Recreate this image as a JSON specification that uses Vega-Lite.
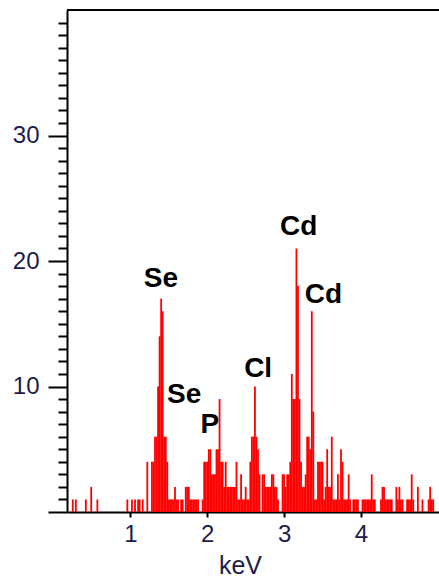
{
  "$schema": "https://vega.github.io/schema/vega-lite/v6.json",
  "width": 372,
  "height": 502,
  "autosize": {"type": "none"},
  "padding": {"left": 67, "top": 10, "right": 0, "bottom": 65},
  "background": "white",
  "config": {"view": {"stroke": null}, "font": "Liberation Sans"},
  "datasets": {
    "spectrum": [
      {"e":0.25,"c":1},{"e":0.29,"c":1},{"e":0.42,"c":1},{"e":0.49,"c":2},{"e":0.57,"c":1},
      {"e":0.96,"c":1},{"e":1.02,"c":1},{"e":1.06,"c":1},{"e":1.10,"c":1},{"e":1.12,"c":1},{"e":1.16,"c":1},
      {"e":1.22,"c":4},{"e":1.28,"c":4},{"e":1.30,"c":4},{"e":1.32,"c":6},{"e":1.34,"c":6},{"e":1.36,"c":10},{"e":1.38,"c":14},{"e":1.40,"c":17},{"e":1.42,"c":16},{"e":1.44,"c":6},{"e":1.46,"c":6},{"e":1.48,"c":4},
      {"e":1.50,"c":1},{"e":1.52,"c":1},{"e":1.54,"c":1},{"e":1.56,"c":1},{"e":1.58,"c":2},{"e":1.60,"c":1},{"e":1.62,"c":1},{"e":1.66,"c":1},{"e":1.68,"c":1},{"e":1.72,"c":2},{"e":1.74,"c":2},{"e":1.76,"c":2},{"e":1.78,"c":1},{"e":1.80,"c":1},{"e":1.82,"c":1},{"e":1.84,"c":1},{"e":1.86,"c":1},{"e":1.88,"c":1},{"e":1.94,"c":1},
      {"e":1.96,"c":4},{"e":1.98,"c":4},{"e":2.00,"c":4},{"e":2.02,"c":5},{"e":2.04,"c":5},{"e":2.06,"c":3},{"e":2.08,"c":3},{"e":2.10,"c":3},{"e":2.12,"c":5},{"e":2.14,"c":5},{"e":2.16,"c":9},{"e":2.18,"c":4},{"e":2.20,"c":4},{"e":2.22,"c":2},{"e":2.24,"c":4},{"e":2.26,"c":2},{"e":2.28,"c":2},{"e":2.30,"c":2},{"e":2.32,"c":2},{"e":2.34,"c":2},{"e":2.36,"c":2},{"e":2.38,"c":4},{"e":2.40,"c":1},{"e":2.42,"c":1},{"e":2.44,"c":3},{"e":2.46,"c":1},{"e":2.48,"c":1},{"e":2.50,"c":2},{"e":2.52,"c":1},{"e":2.54,"c":1},
      {"e":2.56,"c":4},{"e":2.58,"c":6},{"e":2.60,"c":6},{"e":2.62,"c":10},{"e":2.64,"c":6},{"e":2.66,"c":5},{"e":2.68,"c":3},{"e":2.72,"c":3},{"e":2.74,"c":3},{"e":2.76,"c":2},{"e":2.78,"c":2},{"e":2.80,"c":2},{"e":2.82,"c":2},{"e":2.84,"c":3},{"e":2.86,"c":3},{"e":2.88,"c":2},{"e":2.90,"c":2},{"e":2.92,"c":1},
      {"e":2.98,"c":3},{"e":3.00,"c":3},{"e":3.02,"c":2},{"e":3.04,"c":3},{"e":3.06,"c":3},{"e":3.08,"c":4},{"e":3.10,"c":11},{"e":3.12,"c":9},{"e":3.14,"c":9},{"e":3.16,"c":21},{"e":3.18,"c":18},{"e":3.20,"c":9},{"e":3.22,"c":4},{"e":3.24,"c":2},{"e":3.26,"c":2},{"e":3.28,"c":3},{"e":3.30,"c":6},{"e":3.32,"c":6},{"e":3.34,"c":5},{"e":3.36,"c":16},{"e":3.38,"c":8},{"e":3.40,"c":1},{"e":3.42,"c":1},{"e":3.44,"c":4},{"e":3.46,"c":4},{"e":3.48,"c":4},{"e":3.50,"c":4},{"e":3.52,"c":1},{"e":3.54,"c":2},{"e":3.56,"c":5},{"e":3.58,"c":2},{"e":3.60,"c":2},{"e":3.62,"c":6},{"e":3.64,"c":1},{"e":3.66,"c":1},{"e":3.68,"c":1},{"e":3.70,"c":3},{"e":3.72,"c":1},{"e":3.74,"c":5},{"e":3.76,"c":4},{"e":3.78,"c":1},{"e":3.80,"c":1},{"e":3.82,"c":1},{"e":3.84,"c":3},{"e":3.86,"c":1},{"e":3.90,"c":1},{"e":3.92,"c":1},{"e":3.94,"c":1},{"e":3.96,"c":1},
      {"e":4.02,"c":1},{"e":4.04,"c":1},{"e":4.06,"c":1},{"e":4.08,"c":1},{"e":4.10,"c":1},{"e":4.12,"c":1},{"e":4.14,"c":3},{"e":4.16,"c":1},{"e":4.18,"c":1},{"e":4.26,"c":1},{"e":4.28,"c":2},{"e":4.30,"c":2},{"e":4.32,"c":1},{"e":4.34,"c":1},{"e":4.36,"c":1},{"e":4.38,"c":1},{"e":4.40,"c":1},{"e":4.46,"c":2},{"e":4.48,"c":1},{"e":4.50,"c":2},{"e":4.52,"c":1},{"e":4.54,"c":1},{"e":4.60,"c":1},{"e":4.62,"c":1},{"e":4.64,"c":1},{"e":4.66,"c":3},{"e":4.68,"c":1},{"e":4.74,"c":2},{"e":4.80,"c":1},{"e":4.88,"c":1},{"e":4.90,"c":2},{"e":4.92,"c":1},{"e":4.94,"c":1}
    ],
    "labels": [
      {"e":1.396,"c":17.95,"t":"Se"},
      {"e":1.699,"c":8.66,"t":"Se"},
      {"e":2.034,"c":6.27,"t":"P"},
      {"e":2.662,"c":10.78,"t":"Cl"},
      {"e":3.19,"c":22.07,"t":"Cd"},
      {"e":3.51,"c":16.68,"t":"Cd"}
    ]
  },
  "layer": [
    {
      "data": {"name": "spectrum"},
      "mark": {"type": "bar", "color": "#ff0000", "width": 1.8, "orient": "vertical"},
      "encoding": {
        "x": {
          "field": "e", "type": "quantitative",
          "scale": {"domain": [0.24, 4.95], "nice": false, "zero": false},
          "axis": {
            "values": [1, 2, 3, 4], "format": "d", "grid": false, "tickCount": 100,
            "tickSize": 5, "tickWidth": 2, "tickColor": "black",
            "domainColor": "black", "domainWidth": 2,
            "labelFontSize": 24, "labelColor": "#1c1c4c", "labelPadding": 5, "labelFlush": false, "labelOverlap": false,
            "title": "keV", "titleFontSize": 25, "titleFontWeight": "normal", "titleColor": "#1c1c4c",
            "titleX": 173, "titleY": 61, "titleBaseline": "alphabetic", "titleAlign": "center", "titleAnchor": null
          }
        },
        "y": {
          "field": "c", "type": "quantitative",
          "scale": {"domain": [0, 40], "nice": false},
          "axis": {
            "values": [0,1,2,3,4,5,6,7,8,9,10,11,12,13,14,15,16,17,18,19,20,21,22,23,24,25,26,27,28,29,30,31,32,33,34,35,36,37,38,39],
            "tickCount": 100, "format": "d",
            "labelExpr": "(datum.value % 10 === 0 && datum.value > 0) ? datum.label : ''",
            "labelOverlap": false,
            "tickSize": {"condition": {"test": "datum.value % 10 === 0", "value": 19}, "value": 9},
            "grid": false, "title": null,
            "domainColor": "black", "domainWidth": 2,
            "tickColor": "black", "tickWidth": 2,
            "labelFontSize": 24, "labelColor": "#1c1c4c", "labelPadding": 9
          }
        }
      }
    },
    {
      "data": {"values": [{}]},
      "mark": {"type": "rule", "color": "black", "strokeWidth": 2},
      "encoding": {"y": {"datum": 40}}
    },
    {
      "data": {"name": "labels"},
      "mark": {"type": "text", "fontWeight": "bold", "fontSize": 28, "align": "center", "baseline": "alphabetic", "color": "#000000"},
      "encoding": {
        "x": {"field": "e", "type": "quantitative"},
        "y": {"field": "c", "type": "quantitative"},
        "text": {"field": "t"}
      }
    }
  ]
}
